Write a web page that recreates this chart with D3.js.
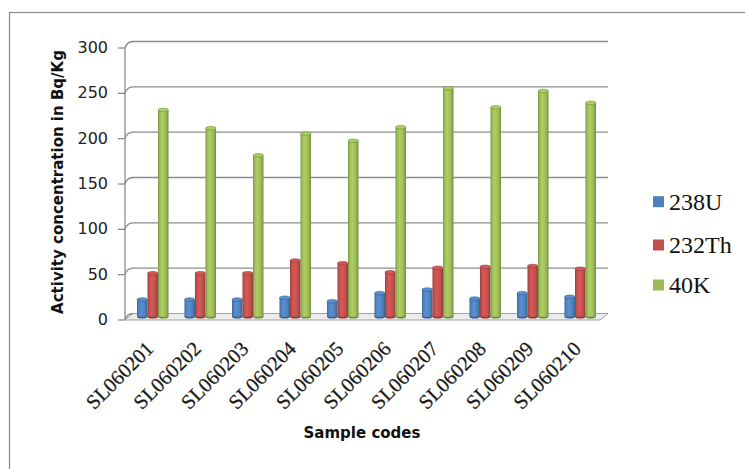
<!DOCTYPE html>
<html><head><meta charset="utf-8">
<script src="https://cdn.jsdelivr.net/npm/d3@7/dist/d3.min.js"></script>
<style>body{margin:0;background:#fff}svg{display:block}</style>
</head><body><svg id="c" width="745" height="469"></svg>
<script>
const categories = ["SL060201","SL060202","SL060203","SL060204","SL060205","SL060206","SL060207","SL060208","SL060209","SL060210"];
const seriesNames = ["238U","232Th","40K"];
const u238  = [19, 19, 19, 21, 17, 26, 30, 20, 26, 22];
const th232 = [48, 48, 48, 62, 59, 49, 54, 55, 56, 53];
const k40   = [228, 208, 178, 202, 194, 209, 252, 231, 249, 236];
const yTicks = [0, 50, 100, 150, 200, 250, 300];
const colors = ["#4F81BD", "#C0504D", "#9BBB59"];
const seriesValues = [u238, th232, k40];

const svg = d3.select("#c");
const defs = svg.append("defs");
colors.forEach((c, i) => {
  const g = defs.append("linearGradient").attr("id", "g" + i).attr("x1", 0).attr("x2", 1).attr("y1", 0).attr("y2", 0);
  const base = d3.color(c);
  g.append("stop").attr("offset", 0).attr("stop-color", base.darker(0.7));
  g.append("stop").attr("offset", 0.15).attr("stop-color", base);
  g.append("stop").attr("offset", 0.4).attr("stop-color", base.brighter(0.3));
  g.append("stop").attr("offset", 0.75).attr("stop-color", base);
  g.append("stop").attr("offset", 1).attr("stop-color", base.darker(0.8));
});

// outer border
svg.append("rect").attr("x", 9.5).attr("y", 12.5).attr("width", 800).attr("height", 500)
  .attr("fill", "none").attr("stroke", "#8a8a8a").attr("stroke-width", 1.2);

const front = {x0: 125, x1: 600, y0: 320, y1: 48};
const depth = {dx: 8, dy: -6.5};
const y = d3.scaleLinear().domain([0, 300]).range([front.y0, front.y1]);
const x = d3.scaleBand().domain(categories).range([front.x0, front.x1]).paddingInner(0);
const xs = d3.scaleBand().domain(seriesNames).range([0, 31.5]);

// floor
svg.append("path")
  .attr("d", `M${front.x0},${front.y0}L${front.x1},${front.y0}L${front.x1+depth.dx},${front.y0+depth.dy}L${front.x0+depth.dx},${front.y0+depth.dy}Z`)
  .attr("fill", "#ececec").attr("stroke", "#a0a0a0").attr("stroke-width", 1);

// gridlines (back wall) and side connectors
const grid = svg.append("g").attr("stroke", "#8c8c8c").attr("stroke-width", 1.3).attr("fill", "none");
yTicks.forEach(t => {
  const yf = y(t);
  if (t > 0) grid.append("line").attr("x1", front.x0 + depth.dx).attr("x2", front.x1 + depth.dx)
    .attr("y1", yf + depth.dy).attr("y2", yf + depth.dy);
  grid.append("path").attr("d", `M${front.x0},${yf}Q${front.x0 + 2},${yf + depth.dy} ${front.x0 + depth.dx},${yf + depth.dy}`);
  grid.append("line").attr("x1", front.x0 - 7).attr("x2", front.x0).attr("y1", yf).attr("y2", yf);
});
grid.append("line").attr("x1", front.x0).attr("x2", front.x0).attr("y1", front.y1).attr("y2", front.y0);

// y tick labels
svg.append("g").selectAll("text").data(yTicks).join("text")
  .attr("x", 108).attr("y", d => y(d) + 0.5).attr("dominant-baseline", "middle")
  .attr("text-anchor", "end").attr("font-family", "DejaVu Sans").attr("font-size", 16).attr("fill", "#222")
  .text(d => d);

// bars (cylinders)
const midX = depth.dx / 2, midY = depth.dy / 2;
const bw = xs.bandwidth();
const gBars = svg.append("g");
categories.forEach((cat, ci) => {
  const groupStart = x(cat) + x.bandwidth() / 2 - 15.75 + midX;
  seriesNames.forEach((s, si) => {
    const v = seriesValues[si][ci];
    const x0 = groupStart + xs(s);
    const top = y(v) + midY, bot = y(0) + midY;
    const dark = d3.color(colors[si]).darker(0.9);
    gBars.append("ellipse").attr("cx", x0 + bw / 2).attr("cy", bot).attr("rx", bw / 2).attr("ry", 1.8)
      .attr("fill", dark);
    gBars.append("rect").attr("x", x0).attr("y", top).attr("width", bw).attr("height", bot - top)
      .attr("fill", `url(#g${si})`);
    gBars.append("ellipse").attr("cx", x0 + bw / 2).attr("cy", top).attr("rx", bw / 2).attr("ry", 1.8)
      .attr("fill", d3.color(colors[si]).brighter(0.3)).attr("stroke", dark).attr("stroke-width", 0.6);
  });
});

// x labels
svg.append("g").selectAll("text").data(categories).join("text")
  .attr("transform", d => `translate(${x(d) + x.bandwidth() / 2 + 6},${350}) rotate(-45)`)
  .attr("text-anchor", "end").attr("font-family", "Liberation Serif").attr("font-size", 20.5)
  .attr("fill", "#1a1a1a").attr("stroke", "#1a1a1a").attr("stroke-width", 0.25)
  .text(d => d);

// axis titles
svg.append("text").attr("transform", "translate(63,182) rotate(-90)").attr("text-anchor", "middle")
  .attr("font-family", "DejaVu Sans").attr("font-weight", "bold").attr("font-size", 15).attr("fill", "#111")
  .text("Activity concentration  in Bq/Kg");
svg.append("text").attr("x", 362).attr("y", 438).attr("text-anchor", "middle")
  .attr("font-family", "DejaVu Sans").attr("font-weight", "bold").attr("font-size", 15).attr("fill", "#111")
  .text("Sample codes");

// legend
const legY = [201.7, 245, 285];
const leg = svg.append("g").selectAll("g").data(seriesNames).join("g")
  .attr("transform", (d, i) => `translate(653,${legY[i]})`);
leg.append("rect").attr("x", 0).attr("y", -5.5).attr("width", 11).attr("height", 11).attr("fill", (d, i) => colors[i]);
leg.append("text").attr("x", 16).attr("y", 8).attr("font-family", "Liberation Serif").attr("font-size", 24).attr("fill", "#111")
  .text(d => d);
</script></body></html>
